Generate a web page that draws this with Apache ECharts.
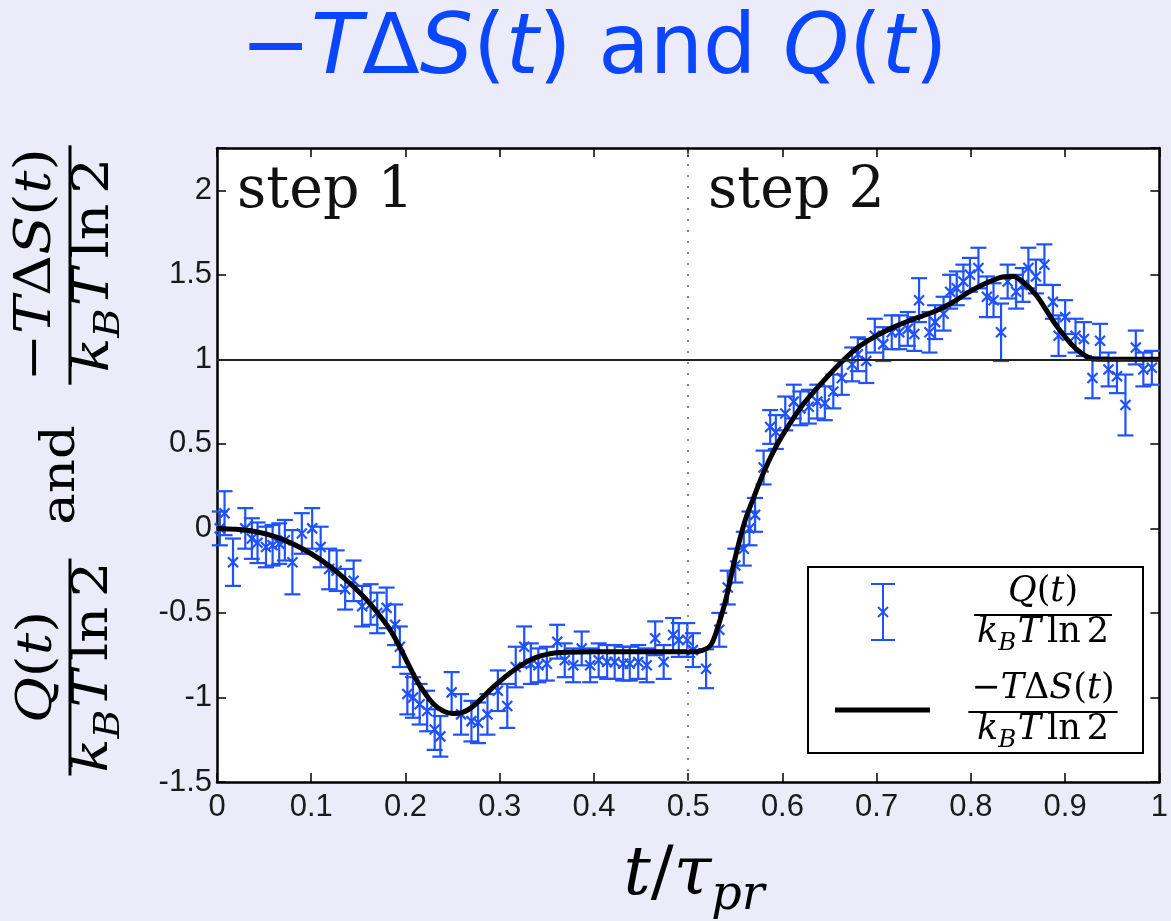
<!DOCTYPE html>
<html><head><meta charset="utf-8">
<script src="https://cdn.jsdelivr.net/npm/echarts@6/dist/echarts.min.js"></script>
<style>html,body{margin:0;padding:0;background:#ebebfa;} #c{width:1171px;height:921px;}</style>
</head><body><div id="c"></div>
<script>
// ---- data: Q(t)/(kB T ln2) measured points with error bars ----
const tQ = [0.003,0.008,0.017,0.030,0.037,0.043,0.052,0.059,0.066,0.072,0.080,0.090,0.101,0.110,0.119,0.127,0.136,0.145,0.154,0.163,
  0.170,0.180,0.189,0.194,0.202,0.208,0.215,0.223,0.231,0.237,0.249,0.259,0.270,0.277,0.287,0.298,0.308,0.317,0.326,0.333,
  0.341,0.350,0.361,0.369,0.378,0.387,0.396,0.405,0.414,0.422,0.431,0.438,0.447,0.456,0.465,0.474,0.484,0.490,0.499,0.505,
  0.519,0.533,0.542,0.550,0.559,0.565,0.571,0.580,0.587,0.593,0.603,0.612,0.619,0.628,0.637,0.645,0.654,0.663,0.674,0.680,
  0.689,0.698,0.707,0.716,0.724,0.733,0.740,0.745,0.756,0.762,0.771,0.778,0.785,0.792,0.799,0.808,0.817,0.824,0.832,0.839,
  0.848,0.855,0.861,0.869,0.878,0.887,0.893,0.900,0.911,0.920,0.929,0.937,0.946,0.955,0.964,0.975,0.983,0.992];
const qVal = [0.00,0.09,-0.20,0.00,-0.06,-0.085,-0.11,-0.10,-0.09,-0.07,-0.20,-0.03,0.00,-0.11,-0.24,-0.25,-0.36,-0.31,-0.46,-0.45,
  -0.50,-0.47,-0.57,-0.70,-0.98,-1.00,-1.04,-1.08,-1.19,-1.23,-0.97,-1.10,-1.14,-1.15,-1.10,-0.96,-1.05,-0.82,-0.70,-0.80,
  -0.81,-0.80,-0.67,-0.78,-0.81,-0.71,-0.81,-0.78,-0.79,-0.79,-0.80,-0.80,-0.79,-0.81,-0.65,-0.79,-0.63,-0.66,-0.66,-0.72,
  -0.83,-0.60,-0.35,-0.22,-0.12,0.00,0.08,0.36,0.60,0.57,0.68,0.75,0.71,0.72,0.75,0.74,0.81,0.89,0.97,1.03,
  0.99,1.14,1.09,1.16,1.16,1.18,1.15,1.35,1.16,1.22,1.27,1.40,1.42,1.46,1.50,1.54,1.37,1.35,1.16,1.46,
  1.40,1.44,1.54,1.49,1.56,1.34,1.14,1.25,1.14,1.12,0.89,1.11,0.94,0.90,0.73,1.07,0.94,0.95];
const qErr = [0.10,0.13,0.14,0.12,0.12,0.12,0.12,0.12,0.12,0.12,0.19,0.12,0.12,0.12,0.12,0.12,0.12,0.12,0.12,0.12,
  0.12,0.12,0.12,0.12,0.12,0.12,0.12,0.12,0.12,0.12,0.12,0.12,0.12,0.12,0.12,0.12,0.13,0.12,0.12,0.12,
  0.10,0.10,0.10,0.10,0.10,0.10,0.10,0.10,0.10,0.10,0.10,0.10,0.10,0.10,0.10,0.10,0.10,0.10,0.10,0.10,
  0.115,0.10,0.10,0.10,0.10,0.10,0.10,0.10,0.10,0.10,0.10,0.10,0.10,0.10,0.10,0.10,0.10,0.10,0.10,0.10,
  0.13,0.10,0.10,0.10,0.10,0.10,0.10,0.13,0.12,0.10,0.10,0.10,0.10,0.10,0.10,0.12,0.12,0.10,0.17,0.10,
  0.10,0.10,0.12,0.10,0.12,0.10,0.12,0.10,0.10,0.10,0.12,0.10,0.10,0.10,0.18,0.10,0.10,0.10];
// ---- data: -T dS(t)/(kB T ln2) curve ----
const tS = [0,0.02,0.04,0.06,0.08,0.10,0.12,0.14,0.16,0.18,0.19,0.20,0.21,0.22,0.23,0.24,0.25,0.26,0.27,0.28,
  0.29,0.30,0.31,0.32,0.33,0.34,0.35,0.36,0.37,0.40,0.45,0.50,0.51,0.52,0.525,0.53,0.54,0.55,0.56,0.57,
  0.58,0.59,0.60,0.62,0.64,0.66,0.68,0.70,0.72,0.74,0.76,0.78,0.80,0.82,0.835,0.845,0.855,0.87,0.89,0.91,
  0.925,0.935,0.95,1.0];
const sVal = [0,-0.005,-0.018,-0.045,-0.09,-0.15,-0.225,-0.32,-0.43,-0.57,-0.66,-0.77,-0.88,-0.97,-1.04,-1.08,-1.095,-1.09,-1.06,-1.01,
  -0.955,-0.905,-0.86,-0.82,-0.785,-0.76,-0.745,-0.736,-0.732,-0.73,-0.73,-0.73,-0.728,-0.71,-0.68,-0.61,-0.42,-0.17,0.04,0.19,
  0.33,0.45,0.55,0.72,0.85,0.97,1.07,1.14,1.195,1.24,1.28,1.335,1.405,1.46,1.488,1.49,1.46,1.375,1.205,1.07,
  1.01,1.0,1.0,1.0];
const xTickLabels = ['0','0.1','0.2','0.3','0.4','0.5','0.6','0.7','0.8','0.9','1'];
const yTickLabels = ['-1.5','-1','-0.5','0','0.5','1','1.5','2'];
const stepLabels = ['step 1','step 2'];
const refLevel = 1;
const stepBoundary = 0.5;

// math text pieces
const numQ = [{t:'Q',it:1},{t:'('},{t:'t',it:1},{t:')'}];
const numS = [{t:'\u2212'},{t:'T',it:1},{t:'\u0394'},{t:'S',it:1},{t:'('},{t:'t',it:1},{t:')'}];
const denom = [{t:'k',it:1},{t:'B',it:1,sub:1},{t:'T',it:1,sp:0.04},{t:'ln',sp:0.17},{t:'2',sp:0.17}];
const andWord = [{t:'and'}];
const xName = [{t:'t',it:1},{t:'/'},{t:'\u03C4',it:1},{t:'p',it:1,sub:1},{t:'r',it:1,sub:1}];
const titlePieces = [{t:'\u2212'},{t:'T',it:1},{t:'\u0394'},{t:'S',it:1},{t:'('},{t:'t',it:1},{t:') and '},{t:'Q',it:1},{t:'('},{t:'t',it:1},{t:')'}];

const BLUE = '#1f52ff';
const TITLE_BLUE = '#0a46ff';
const SERIF = '"DejaVu Serif", "Liberation Serif", serif';
const SANS = '"DejaVu Sans", sans-serif';
const mctx = document.createElement('canvas').getContext('2d');
function pieceFont(p, s, fam){ return (p.it ? 'italic ' : '') + s.toFixed(1) + 'px ' + (fam || SERIF); }
function mathRow(pieces, size, cx, baseline, color, align, fam) {
  const items = pieces.map(p => { const s = p.sub ? size*0.7 : size; const f = pieceFont(p, s, fam); mctx.font = f; return {p, s, f, w: mctx.measureText(p.t).width}; });
  let total = 0; items.forEach(it => total += it.w + (it.p.sp||0)*size);
  let x = align === 'left' ? cx : cx - total/2;
  const els = [];
  items.forEach(it => {
    x += (it.p.sp||0)*size;
    const by = baseline + (it.p.sub ? 0.2*size : 0);
    els.push({type:'text', x: x, y: by - 0.35*it.s, style:{text: it.p.t, font: it.f, fill: color,
      textAlign:'left', textVerticalAlign:'middle', align:'left', verticalAlign:'middle'}});
    x += it.w;
  });
  return {els, width: total};
}
function fraction(num, den, size, cx, barY, color, pad) {
  const n = mathRow(num, size, cx, barY - 0.3*size, color);
  const d = mathRow(den, size, cx, barY + 0.85*size, color);
  const w = Math.max(n.width, d.width) + pad;
  const lw = Math.max(2, size*0.06);
  return n.els.concat(d.els, [{type:'rect', shape:{x: cx - w/2, y: barY - lw/2, width: w, height: lw}, style:{fill: color}}]);
}

const chart = echarts.init(document.getElementById('c'), null, {renderer:'canvas'});

// y axis name (rotated)
const yLabelChildren = [].concat(
  fraction(numQ, denom, 56, 103, 0, '#000', 6),
  mathRow(andWord, 53, 295, 9, '#000').els,
  fraction(numS, denom, 57, 505, 0, '#000', 6)
);
const legendChildren = [
  {type:'rect', shape:{x:808, y:567, width:335, height:186}, style:{fill:'#fff', stroke:'#000', lineWidth:2}},
  {type:'line', shape:{x1:883, y1:584, x2:883, y2:640}, style:{stroke:BLUE, lineWidth:2}},
  {type:'line', shape:{x1:871, y1:584, x2:895, y2:584}, style:{stroke:BLUE, lineWidth:2}},
  {type:'line', shape:{x1:871, y1:640, x2:895, y2:640}, style:{stroke:BLUE, lineWidth:2}},
  {type:'line', shape:{x1:878, y1:607, x2:888, y2:617}, style:{stroke:BLUE, lineWidth:2}},
  {type:'line', shape:{x1:878, y1:617, x2:888, y2:607}, style:{stroke:BLUE, lineWidth:2}},
  {type:'line', shape:{x1:835, y1:710, x2:930, y2:710}, style:{stroke:'#000', lineWidth:5}}
].concat(
  fraction(numQ, denom, 35, 1043, 615, '#000', 6),
  fraction(numS, denom, 35, 1043, 712, '#000', 6)
);

const option = {
  backgroundColor: '#ebebfa',
  animation: false,
  grid: {left:217, right:5, top:148, bottom:139, show:true, backgroundColor:'#fff', borderWidth:0, containLabel:false},
  xAxis: [
    {type:'value', min:0, max:1, interval:0.1, position:'bottom',
     axisLine:{show:true, onZero:false, lineStyle:{color:'#000', width:2.5}},
     axisTick:{show:true, inside:true, length:9, lineStyle:{color:'#000', width:1.5}},
     axisLabel:{fontSize:31, fontFamily:'"Liberation Sans", Arial, sans-serif', color:'#1a1a1a', margin:10,
       formatter: v => xTickLabels[Math.round(v*10)] || ''},
     splitLine:{show:false}},
    {type:'value', min:0, max:1, interval:0.1, position:'top',
     axisLine:{show:true, onZero:false, lineStyle:{color:'#000', width:2.5}},
     axisTick:{show:true, inside:true, length:9, lineStyle:{color:'#000', width:1.5}},
     axisLabel:{show:false}, splitLine:{show:false}}
  ],
  yAxis: [
    {type:'value', min:-1.5, max:2.25, interval:0.5, position:'left',
     axisLine:{show:true, onZero:false, lineStyle:{color:'#000', width:2.5}},
     axisTick:{show:true, inside:true, length:9, lineStyle:{color:'#000', width:1.5}},
     axisLabel:{fontSize:31, fontFamily:'"Liberation Sans", Arial, sans-serif', color:'#1a1a1a', margin:5,
       formatter: v => { const k = Math.round((v + 1.5) * 2); return (Math.abs(v - (k/2 - 1.5)) < 1e-6 && yTickLabels[k]) ? yTickLabels[k] : ''; }},
     splitLine:{show:false}},
    {type:'value', min:-1.5, max:2.25, interval:0.5, position:'right',
     axisLine:{show:true, onZero:false, lineStyle:{color:'#000', width:2.5}},
     axisTick:{show:true, inside:true, length:9, lineStyle:{color:'#000', width:1.5}},
     axisLabel:{show:false}, splitLine:{show:false}}
  ],
  series: [
    {
      type:'custom', name:'Q', xAxisIndex:0, yAxisIndex:0, z:2,
      data: tQ.map((t,i) => [t, qVal[i], qErr[i]]),
      renderItem: function(params, api) {
        const x = api.value(0), y = api.value(1), e = api.value(2);
        const p = api.coord([x, y]), hi = api.coord([x, y + e]), lo = api.coord([x, y - e]);
        const cw = 8, m = 5;
        const st = {stroke: BLUE, lineWidth: 2.2};
        return {type:'group', children:[
          {type:'line', shape:{x1:p[0], y1:hi[1], x2:p[0], y2:lo[1]}, style:st},
          {type:'line', shape:{x1:p[0]-cw, y1:hi[1], x2:p[0]+cw, y2:hi[1]}, style:st},
          {type:'line', shape:{x1:p[0]-cw, y1:lo[1], x2:p[0]+cw, y2:lo[1]}, style:st},
          {type:'line', shape:{x1:p[0]-m, y1:p[1]-m, x2:p[0]+m, y2:p[1]+m}, style:st},
          {type:'line', shape:{x1:p[0]-m, y1:p[1]+m, x2:p[0]+m, y2:p[1]-m}, style:st}
        ]};
      }
    },
    {
      type:'line', name:'S', xAxisIndex:0, yAxisIndex:0, z:4,
      data: tS.map((t,i) => [t, sVal[i]]),
      showSymbol:false, smooth:0.3,
      lineStyle:{color:'#000', width:5},
      markLine:{silent:true, symbol:['none','none'], label:{show:false}, animation:false,
        data:[
          {yAxis: refLevel, lineStyle:{color:'#222', width:2, type:'solid'}},
          {xAxis: stepBoundary, lineStyle:{color:'#888', width:2, type:[2,9]}}
        ]}
    }
  ],
  graphic: [
    {type:'group', children: mathRow(titlePieces, 84, 594, 81, TITLE_BLUE, 'center', SANS).els},
    {type:'group', x:70, y:770, rotation:Math.PI/2, scaleY:0.88, children: yLabelChildren},
    {type:'group', children: mathRow(xName, 68, 694, 900, '#000').els},
    {type:'text', x:237, y:212 - 0.35*57, style:{text: stepLabels[0], font:'57px ' + SERIF, fill:'#111', textAlign:'left', textVerticalAlign:'middle', align:'left', verticalAlign:'middle'}, z:50},
    {type:'text', x:708, y:212 - 0.35*57, style:{text: stepLabels[1], font:'57px ' + SERIF, fill:'#111', textAlign:'left', textVerticalAlign:'middle', align:'left', verticalAlign:'middle'}, z:50},
    {type:'group', z:100, children: legendChildren}
  ]
};
chart.setOption(option);
</script>
</body></html>
